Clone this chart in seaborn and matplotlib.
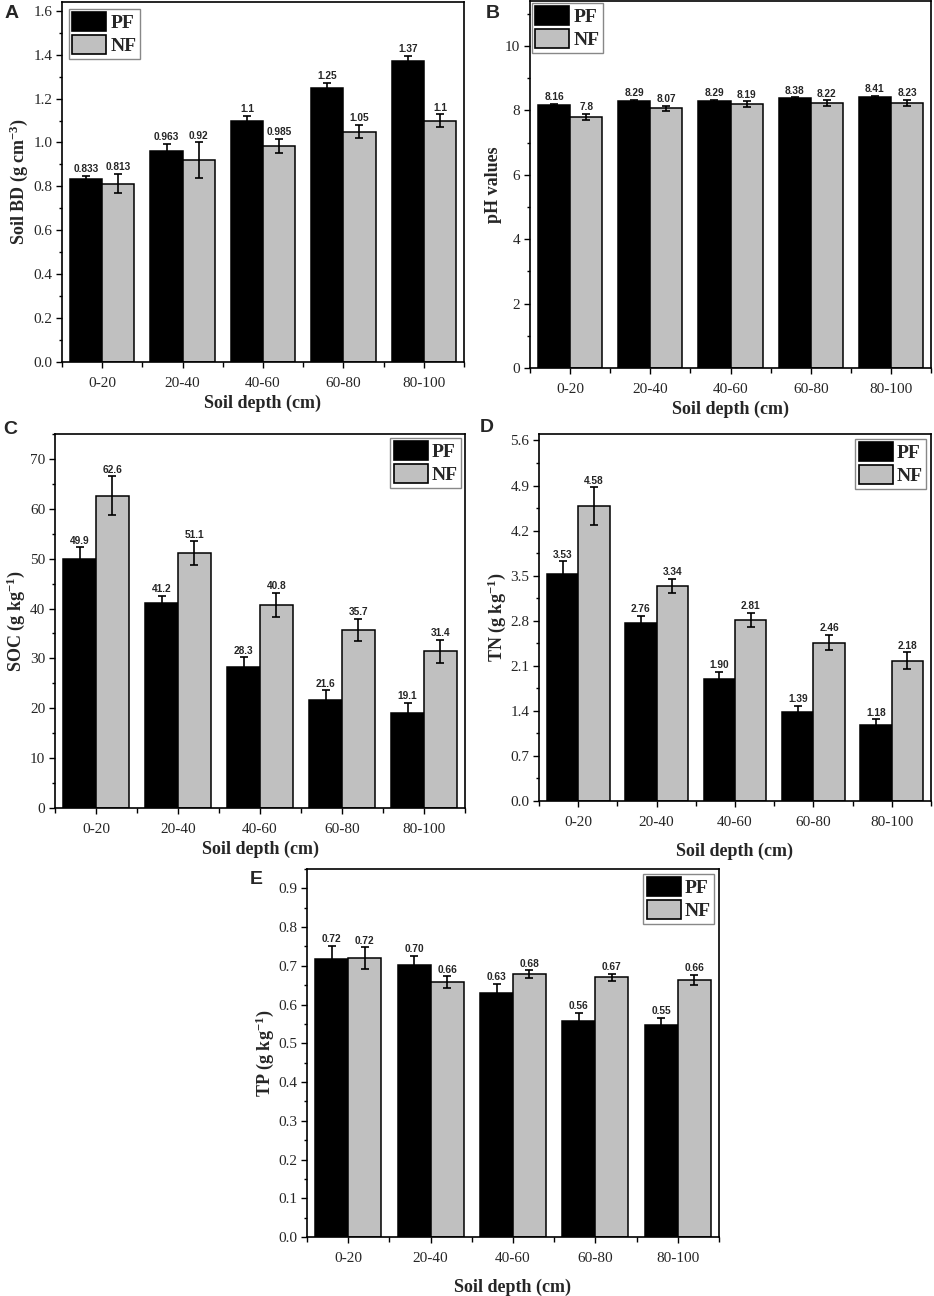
import numpy as np
import pandas as pd
import matplotlib
matplotlib.use("Agg")
import matplotlib.pyplot as plt
import seaborn as sns
from matplotlib.ticker import MultipleLocator, FormatStrFormatter
from matplotlib.patches import Patch

# data
depths = ["0-20", "20-40", "40-60", "60-80", "80-100"]

bd_pf = [0.833, 0.963, 1.1, 1.25, 1.37]
bd_pf_err = [0.015, 0.032, 0.022, 0.022, 0.025]
bd_nf = [0.813, 0.92, 0.985, 1.05, 1.1]
bd_nf_err = [0.045, 0.08, 0.033, 0.03, 0.028]

ph_pf = [8.16, 8.29, 8.29, 8.38, 8.41]
ph_pf_err = [0.04, 0.03, 0.03, 0.03, 0.04]
ph_nf = [7.8, 8.07, 8.19, 8.22, 8.23]
ph_nf_err = [0.09, 0.08, 0.09, 0.09, 0.09]

soc_pf = [49.9, 41.2, 28.3, 21.6, 19.1]
soc_pf_err = [2.4, 1.4, 1.9, 2.0, 2.0]
soc_nf = [62.6, 51.1, 40.8, 35.7, 31.4]
soc_nf_err = [3.9, 2.4, 2.4, 2.3, 2.3]

tn_pf = [3.53, 2.76, 1.90, 1.39, 1.18]
tn_pf_err = [0.19, 0.12, 0.11, 0.09, 0.09]
tn_nf = [4.58, 3.34, 2.81, 2.46, 2.18]
tn_nf_err = [0.29, 0.11, 0.11, 0.12, 0.13]

tp_pf = [0.718, 0.702, 0.63, 0.558, 0.546]
tp_pf_err = [0.033, 0.023, 0.023, 0.021, 0.019]
tp_nf = [0.72, 0.658, 0.678, 0.67, 0.663]
tp_nf_err = [0.028, 0.015, 0.01, 0.01, 0.013]

colors = {"PF": "black", "NF": "#c0c0c0"}

sns.set_style("ticks")
plt.rcParams["font.family"] = ["Liberation Serif", "DejaVu Serif"]
plt.rcParams["mathtext.fontset"] = "custom"
plt.rcParams["mathtext.rm"] = "Liberation Serif"
plt.rcParams["mathtext.bf"] = "Liberation Serif:bold"
plt.rcParams["mathtext.it"] = "Liberation Serif:italic"


def panel(ax, pf, pf_err, nf, nf_err, ylabel, ymax, major, tickfmt, valfmt,
          legloc, legpad, xpad):
    df = pd.DataFrame({
        "depth": depths * 2,
        "group": ["PF"] * len(depths) + ["NF"] * len(depths),
        "value": pf + nf,
    })
    sns.barplot(data=df, x="depth", y="value", hue="group",
                hue_order=["PF", "NF"], palette=colors, saturation=1,
                edgecolor="black", linewidth=1.1, errorbar=None,
                legend=False, ax=ax)

    # error bars and value labels on top of each bar
    for cont, vals, errs in zip(ax.containers, [pf, nf], [pf_err, nf_err]):
        xs = [b.get_x() + b.get_width() / 2 for b in cont]
        ax.errorbar(xs, vals, yerr=errs, fmt="none", ecolor="black",
                    elinewidth=1.2, capsize=3, capthick=1.2)
        for x, v, e in zip(xs, vals, errs):
            ax.annotate(valfmt.format(v), (x, v + e), xytext=(0, 1.2),
                        textcoords="offset points", ha="center", va="bottom",
                        fontsize=7.3, fontweight="bold",
                        family=["Liberation Sans", "DejaVu Sans"])

    ax.set_xlim(-0.5, 4.5)
    ax.set_ylim(0, ymax)
    ax.yaxis.set_major_locator(MultipleLocator(major))
    ax.yaxis.set_minor_locator(MultipleLocator(major / 2))
    ax.yaxis.set_major_formatter(FormatStrFormatter(tickfmt))
    ax.xaxis.set_minor_locator(MultipleLocator(1, offset=0.5))
    ax.tick_params(which="major", direction="out", length=4.5, width=1,
                   labelsize=11, color="black")
    ax.tick_params(axis="y", which="major", pad=2.5)
    ax.tick_params(axis="x", which="major", pad=6.5)
    ax.tick_params(which="minor", direction="out", length=2.5, width=1,
                   color="black")
    ax.tick_params(axis="x", which="minor", length=3.5)
    for s in ax.spines.values():
        s.set_linewidth(1.2)
        s.set_color("black")

    ax.set_xlabel("Soil depth (cm)", fontsize=13, fontweight="bold",
                  labelpad=xpad)
    ax.set_ylabel(ylabel, fontsize=13, fontweight="bold", labelpad=2)

    handles = [Patch(facecolor=colors["PF"], edgecolor="black", lw=1.2, label="PF"),
               Patch(facecolor=colors["NF"], edgecolor="black", lw=1.2, label="NF")]
    leg = ax.legend(handles=handles, loc=legloc,
                    prop={"weight": "bold", "size": 14},
                    handlelength=1.75, handleheight=1.1, handletextpad=0.2,
                    labelspacing=0.15, borderpad=0.18, borderaxespad=legpad,
                    fancybox=False, edgecolor="#888888", framealpha=1)
    leg.get_frame().set_linewidth(1)


W, H = 934, 1296
fig = plt.figure(figsize=(W / 100, H / 100), dpi=100)


def rect(x0, x1, y0, y1):
    return [x0 / W, 1 - y1 / H, (x1 - x0) / W, (y1 - y0) / H]


axA = fig.add_axes(rect(62, 464, 2, 362))
axB = fig.add_axes(rect(530, 931, 1, 368))
axC = fig.add_axes(rect(55, 465, 434, 808))
axD = fig.add_axes(rect(539, 931, 434, 801))
axE = fig.add_axes(rect(307, 719, 869, 1237))

panel(axA, bd_pf, bd_pf_err, bd_nf, bd_nf_err,
      r"Soil BD (g cm$^{\mathbf{-3}}$)", 1.64, 0.2, "%.1f", "{:.3g}",
      "upper left", 0.35, 3)
panel(axB, ph_pf, ph_pf_err, ph_nf, ph_nf_err,
      "pH values", 11.4, 2, "%d", "{:.3g}",
      "upper left", 0.1, 3)
panel(axC, soc_pf, soc_pf_err, soc_nf, soc_nf_err,
      r"SOC (g kg$^{\mathbf{-1}}$)", 75, 10, "%d", "{:.3g}",
      "upper right", 0.2, 3)
panel(axD, tn_pf, tn_pf_err, tn_nf, tn_nf_err,
      r"TN (g kg$^{\mathbf{-1}}$)", 5.7, 0.7, "%.1f", "{:.2f}",
      "upper right", 0.25, 10)
panel(axE, tp_pf, tp_pf_err, tp_nf, tp_nf_err,
      r"TP (g kg$^{\mathbf{-1}}$)", 0.95, 0.1, "%.1f", "{:.2f}",
      "upper right", 0.25, 10)

for letter, x, y in [("A", 12, 14), ("B", 493, 13), ("C", 10, 430),
                     ("D", 487, 428), ("E", 256, 879)]:
    fig.text(x / W, 1 - y / H, letter, fontsize=14, fontweight="bold",
             family=["Liberation Sans", "DejaVu Sans"], ha="center", va="center")

fig.savefig("out.png", dpi=100)
